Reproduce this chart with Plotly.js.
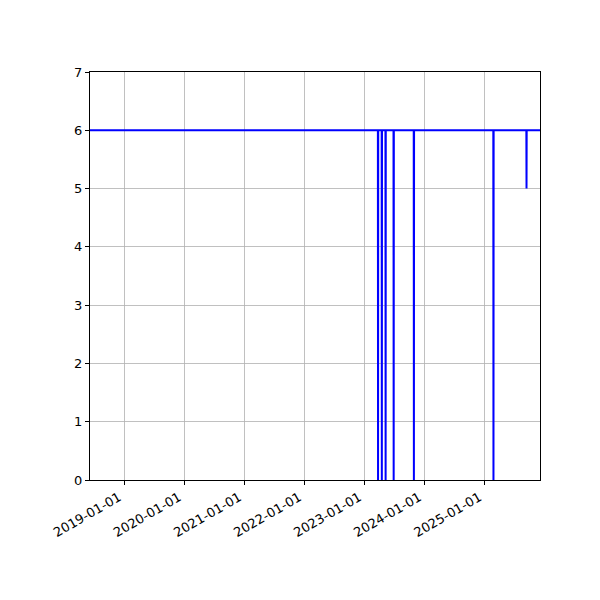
<!DOCTYPE html>
<html>
<head>
<meta charset="utf-8">
<script src="https://cdn.plot.ly/plotly-3.0.1.min.js"></script>
<style>
  body { margin: 0; background: #fff; }
  #plotZone { width: 600px; height: 600px; }
</style>
</head>
<body>
<div id="plotZone"></div>
<script>
// series: level stays at 6 with short one-day drops
var dates = [
    '2018-06-08',
    '2023-03-25', '2023-03-26', '2023-03-27',
    '2023-04-17', '2023-04-18', '2023-04-19',
    '2023-05-10', '2023-05-11', '2023-05-12',
    '2023-06-28', '2023-06-29', '2023-06-30',
    '2023-10-29', '2023-10-30', '2023-10-31',
    '2025-02-24', '2025-02-25', '2025-02-26',
    '2025-09-13', '2025-09-14', '2025-09-15',
    '2025-12-05'
];
var values = [
    6,
    6, 0, 6,
    6, 0, 6,
    6, 0, 6,
    6, 0, 6,
    6, 0, 6,
    6, 0, 6,
    6, 5, 6,
    6
];
var tickDates = ['2019-01-01', '2020-01-01', '2021-01-01', '2022-01-01',
                 '2023-01-01', '2024-01-01', '2025-01-01'];
var yTicks = [0, 1, 2, 3, 4, 5, 6, 7];

var trace = {
    x: dates,
    y: values,
    type: 'scatter',
    mode: 'lines',
    line: {color: '#0000ff', width: 2},
    hoverinfo: 'x+y'
};

var axisCommon = {
    showline: true,
    linecolor: '#000',
    linewidth: 1,
    mirror: true,
    ticks: 'outside',
    ticklen: 4,
    tickwidth: 1,
    tickcolor: '#000',
    showgrid: true,
    gridcolor: '#b0b0b0',
    gridwidth: 0.8,
    zeroline: false,
    tickfont: {family: 'DejaVu Sans', size: 13, color: '#000'}
};

var layout = {
    width: 600,
    height: 600,
    margin: {l: 90, r: 60, t: 72, b: 120},
    paper_bgcolor: '#fff',
    plot_bgcolor: '#fff',
    showlegend: false,
    xaxis: Object.assign({}, axisCommon, {
        type: 'date',
        range: ['2018-06-08', '2025-12-05'],
        tickmode: 'array',
        tickvals: tickDates,
        ticktext: tickDates,
        tickangle: -30,
        ticklabelshift: -5
    }),
    yaxis: Object.assign({}, axisCommon, {
        range: [0, 7],
        tickmode: 'array',
        tickvals: yTicks,
        ticktext: yTicks.map(String)
    })
};

Plotly.newPlot('plotZone', [trace], layout, {displayModeBar: false, staticPlot: true});
</script>
</body>
</html>
